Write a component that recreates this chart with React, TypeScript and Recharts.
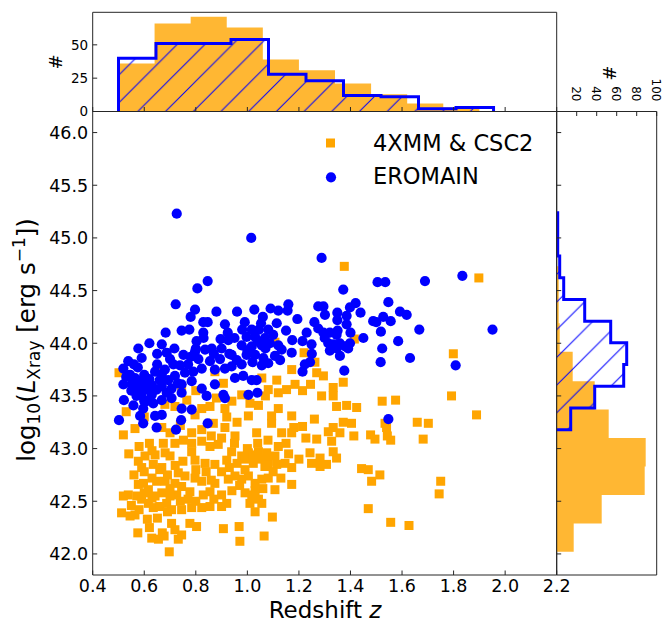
import React from 'react';
import {
  ScatterChart,
  Scatter,
  ComposedChart,
  Area,
  XAxis,
  YAxis,
  ReferenceArea,
} from 'recharts';

const FONT = 'DejaVu Sans, Verdana, sans-serif';
const ORANGE = '#FFA500';
const BLUE = '#0000FF';
const SPINE = '#262626';

// axis limits and ticks
const zDomain = [0.4, 2.2];
const lDomain = [41.8, 46.2];
const zTicks = [0.4, 0.6, 0.8, 1.0, 1.2, 1.4, 1.6, 1.8, 2.0, 2.2];
const lTicks = [42.0, 42.5, 43.0, 43.5, 44.0, 44.5, 45.0, 45.5, 46.0];
const topCountTicks = [0, 25, 50];
const rightCountTicks = [20, 40, 60, 80, 100];

// 4XMM & CSC2 sources: [redshift, log10 Lx]
const xmmPoints: [number, number][] = [
  [0.502, 43.72], [0.661, 43.73], [1.107, 44.01], [1.172, 43.75], [1.114, 43.65],
  [1.081, 43.56], [1.12, 43.53], [1.152, 43.56], [1.185, 43.61], [1.056, 43.67],
  [0.978, 43.51], [1.01, 43.43], [1.043, 43.41], [0.913, 43.38], [0.874, 43.73],
  [0.907, 43.62], [0.745, 43.59], [0.719, 43.4], [0.765, 43.46], [0.823, 43.38],
  [0.855, 43.4], [0.797, 43.32], [1.004, 43.31], [1.094, 43.31], [1.172, 43.31],
  [0.519, 43.13], [0.564, 43.19], [0.668, 43.2], [0.784, 43.15], [0.823, 43.18],
  [0.868, 43.24], [0.913, 43.2], [0.952, 43.12], [1.036, 43.15], [1.094, 43.24],
  [1.133, 43.15], [1.172, 43.15], [0.674, 43.05], [0.719, 43.05], [0.752, 43.08],
  [0.784, 43.05], [0.823, 43.07], [0.855, 43.02], [0.887, 43.04], [0.681, 42.96],
  [0.642, 42.94], [0.577, 42.88], [0.603, 42.93], [0.59, 42.82], [0.635, 42.85],
  [0.668, 42.82], [0.7, 42.93], [0.784, 42.97], [0.797, 42.89], [0.836, 42.86],
  [0.874, 42.85], [0.939, 42.97], [0.978, 42.93], [0.92, 42.89], [1.004, 42.96],
  [1.043, 42.97], [1.075, 42.96], [1.107, 42.93], [1.023, 42.86], [1.068, 42.83],
  [1.114, 42.85], [1.146, 42.86], [1.172, 42.82], [1.081, 42.88], [0.991, 42.8],
  [0.732, 42.77], [0.758, 42.74], [0.797, 42.72], [0.823, 42.69], [0.719, 42.67],
  [0.726, 42.56], [0.745, 42.64], [0.597, 42.67], [0.577, 42.66], [0.616, 42.61],
  [0.648, 42.69], [0.681, 42.69], [0.668, 42.58], [0.642, 42.55], [0.538, 42.56],
  [0.519, 42.55], [0.571, 42.55], [0.59, 42.52], [0.616, 42.48], [0.635, 42.44],
  [0.7, 42.55], [0.687, 42.48], [0.874, 42.67], [0.926, 42.71], [0.952, 42.74],
  [0.978, 42.71], [1.004, 42.74], [1.03, 42.67], [1.056, 42.71], [1.081, 42.72],
  [0.991, 42.58], [1.017, 42.56], [1.043, 42.52], [1.03, 42.4], [1.01, 42.48],
  [1.056, 42.48], [1.107, 42.61], [1.172, 42.66], [0.777, 42.59], [0.829, 42.56],
  [0.855, 42.59], [0.512, 42.39], [0.545, 42.36], [0.564, 42.37], [0.612, 42.33],
  [0.651, 42.34], [0.706, 42.42], [0.745, 42.42], [0.784, 42.44], [0.823, 42.44],
  [0.855, 42.45], [0.9, 42.45], [0.92, 42.48], [0.706, 42.29], [0.719, 42.23],
  [0.745, 42.18], [0.732, 42.14], [0.777, 42.29], [0.803, 42.26], [0.575, 42.2],
  [0.629, 42.15], [0.655, 42.14], [0.677, 42.17], [0.697, 42.02], [0.907, 42.24],
  [0.968, 42.26], [0.971, 42.12], [1.065, 42.17], [1.097, 42.35],
  [0.56, 42.75], [0.6, 42.78], [0.63, 42.72], [0.66, 42.8], [0.69, 42.75],
  [0.72, 42.84], [0.75, 42.88], [0.7, 42.62], [0.6, 42.58], [0.63, 42.53],
  [0.66, 42.45], [0.55, 42.46], [0.58, 42.42], [0.69, 42.4], [0.74, 42.5],
  [0.77, 42.52], [0.8, 42.5], [0.8, 42.8], [0.84, 42.78], [0.86, 42.7],
  [0.9, 42.78], [0.93, 42.82], [0.96, 42.86], [0.99, 42.9], [1.02, 42.94],
  [1.05, 42.9], [1.08, 42.84], [1.1, 42.78], [1.06, 42.62], [1.03, 42.6],
  [0.97, 42.65], [0.94, 42.6], [0.9, 42.56], [0.87, 42.52], [1.0, 43.0],
  [1.04, 43.05], [1.08, 43.08], [1.12, 43.02], [1.15, 43.05], [0.95, 43.05],
  [0.9, 43.1], [0.86, 43.12], [0.7, 43.15], [0.74, 43.22], [0.62, 43.05],
  [0.58, 43.02], [0.54, 42.95], [0.63, 42.98], [1.13, 42.72], [1.16, 42.95],
  [1.2, 42.9], [1.18, 43.2], [0.96, 43.25], [0.92, 43.3], [0.88, 43.48],
  [0.94, 43.45], [1.07, 43.5], [1.12, 43.38], [0.6, 43.3], [0.68, 43.42],
  [0.53, 43.35], [0.8, 43.55], [0.67, 42.2], [0.62, 42.25],
  [1.415, 44.04], [1.22, 43.91], [1.262, 43.82], [1.269, 43.72], [1.295, 43.69],
  [1.245, 43.61], [1.214, 43.55], [1.333, 43.58], [1.372, 43.63], [1.288, 43.5],
  [1.333, 43.5], [1.346, 43.4], [1.385, 43.41], [1.424, 43.39], [1.799, 43.9],
  [1.792, 43.5], [1.889, 43.32], [1.523, 43.45], [1.575, 43.46], [1.26, 43.28],
  [1.372, 43.25], [1.404, 43.24], [1.333, 43.2], [1.359, 43.15], [1.314, 43.16],
  [1.327, 43.07], [1.214, 43.21], [1.227, 43.1], [1.269, 43.09], [1.413, 43.12],
  [1.478, 43.13], [1.495, 43.09], [1.534, 43.24], [1.54, 43.2], [1.543, 43.12],
  [1.556, 43.08], [1.659, 43.25], [1.702, 43.24], [1.682, 43.09], [1.243, 42.96],
  [1.282, 42.91], [1.249, 42.86], [1.282, 42.83], [1.307, 42.85], [1.346, 42.91],
  [1.333, 42.97], [1.443, 42.81], [1.469, 42.8], [1.514, 42.75], [1.482, 42.69],
  [1.75, 42.69], [1.744, 42.57], [1.469, 42.43], [1.556, 42.3], [1.627, 42.27],
  [1.376, 44.73], [1.898, 44.62],
];

// eROSITA main sample: [redshift, log10 Lx]
const eroPoints: [number, number][] = [
  [0.726, 45.23], [1.015, 45.0], [1.288, 44.81], [1.372, 44.51], [1.505, 44.58],
  [1.535, 44.58], [1.689, 44.59], [1.834, 44.64],
  [0.846, 44.59], [0.806, 44.52], [0.722, 44.37], [0.797, 44.32], [1.027, 44.32],
  [1.09, 44.33], [1.12, 44.31], [1.156, 44.31], [1.159, 44.37], [1.194, 44.23],
  [0.78, 44.25], [0.829, 44.2], [0.846, 44.2], [0.913, 44.18], [1.053, 44.19],
  [1.114, 44.19], [0.745, 44.12], [0.775, 44.13], [0.683, 44.1], [0.829, 44.1],
  [0.924, 44.1], [0.98, 44.13], [1.017, 44.13], [1.045, 44.13], [1.081, 44.13],
  [0.896, 44.04], [0.926, 44.03], [0.803, 44.02], [0.668, 43.99], [0.577, 43.95],
  [1.174, 44.03], [0.997, 44.06], [1.03, 44.06], [1.068, 44.05], [0.978, 43.98],
  [1.017, 43.97], [1.056, 43.98], [1.088, 44.0], [0.862, 43.95], [0.836, 43.94],
  [0.797, 43.92], [0.717, 43.95], [0.687, 43.91], [0.752, 43.89], [0.78, 43.87],
  [0.81, 43.85], [1.133, 43.94], [1.172, 43.91], [0.59, 43.86], [0.538, 43.83],
  [0.519, 43.76], [0.575, 43.77], [0.713, 43.8], [0.739, 43.79], [0.855, 43.83],
  [0.894, 43.85], [0.939, 43.89], [0.959, 43.84], [0.978, 43.8], [0.997, 43.89],
  [1.03, 43.89], [1.062, 43.86], [1.081, 43.81], [1.056, 43.79], [1.107, 43.88],
  [1.127, 43.84], [0.642, 43.73], [0.668, 43.7], [0.693, 43.65], [0.719, 43.69],
  [0.758, 43.72], [0.79, 43.73], [0.823, 43.76], [0.874, 43.75], [0.913, 43.76],
  [0.939, 43.78], [0.545, 43.7], [0.564, 43.67], [0.59, 43.65], [0.616, 43.62],
  [0.603, 43.56], [0.629, 43.51], [0.59, 43.5], [0.519, 43.61], [0.551, 43.61],
  [0.668, 43.59], [0.706, 43.57], [0.745, 43.61], [0.784, 43.64], [0.823, 43.57],
  [0.842, 43.5], [0.874, 43.61], [0.907, 43.51], [0.913, 43.48], [0.952, 43.67],
  [0.984, 43.69], [1.017, 43.65], [1.036, 43.65], [1.004, 43.51], [1.039, 43.53],
  [0.521, 43.46], [0.558, 43.41], [0.596, 43.38], [0.635, 43.43], [0.668, 43.46],
  [0.706, 43.48], [0.745, 43.53], [0.745, 43.38], [0.584, 43.31], [0.642, 43.31],
  [0.668, 43.32], [0.784, 43.37], [0.571, 43.56], [0.622, 43.57], [0.648, 43.56],
  [0.609, 43.45], [0.687, 43.53],
  [0.55, 43.55], [0.58, 43.62], [0.6, 43.7], [0.62, 43.66], [0.57, 43.5],
  [0.6, 43.45], [0.63, 43.6], [0.66, 43.65], [0.53, 43.68], [0.56, 43.8],
  [0.65, 43.8], [0.7, 43.85], [0.68, 43.75], [0.73, 43.62], [0.77, 43.8],
  [0.8, 43.95], [0.83, 44.05], [0.87, 43.9], [0.9, 43.95], [0.93, 43.9],
  [0.95, 44.05], [0.99, 44.2], [1.0, 43.93], [1.02, 43.82], [1.04, 44.02],
  [1.07, 43.95], [1.1, 44.08], [1.12, 43.98], [1.15, 44.12], [1.06, 44.25],
  [0.96, 44.3], [0.88, 44.3], [0.62, 44.0], [0.65, 43.9],
  [0.502, 43.27], [0.596, 43.24], [0.648, 43.2], [0.723, 43.18], [0.743, 43.27],
  [0.846, 43.24],
  [1.547, 44.39], [1.275, 44.35], [1.295, 44.35], [1.398, 44.34], [1.301, 44.27],
  [1.349, 44.29], [1.349, 44.22], [1.385, 44.26], [1.385, 44.18], [1.439, 44.29],
  [1.488, 44.21], [1.527, 44.25], [1.556, 44.21], [1.592, 44.3], [1.618, 44.27],
  [1.275, 44.14], [1.295, 44.1], [1.32, 44.1], [1.346, 44.08], [1.518, 44.11],
  [1.667, 44.13], [1.951, 44.13], [1.214, 44.02], [1.249, 43.99], [1.314, 44.0],
  [1.333, 43.99], [1.359, 44.0], [1.379, 43.97], [1.398, 44.0], [1.391, 43.95],
  [1.346, 43.95], [1.585, 44.02], [1.523, 43.95], [1.359, 43.88], [1.631, 43.86],
  [1.517, 43.82], [1.808, 43.79], [1.243, 43.82], [1.223, 43.8], [1.214, 43.73],
  [1.376, 43.74], [1.547, 43.28],
  [1.3, 44.05], [1.35, 44.12], [1.4, 44.1], [1.32, 43.93], [1.26, 44.2],
  [1.42, 44.38], [1.45, 44.05], [1.5, 44.2], [1.25, 43.9], [1.23, 44.1],
];

// histograms: bin edges and counts
const xmmZEdges = [0.5, 0.64, 0.78, 0.92, 1.06, 1.2, 1.34, 1.48, 1.62, 1.76, 1.9];
const xmmZCounts = [36, 66, 71, 63, 39, 31, 21, 13, 6, 3];
const eroZEdges = [0.5, 0.6455, 0.791, 0.9365, 1.082, 1.2275, 1.373, 1.5185, 1.664, 1.8095, 1.955];
const eroZCounts = [40, 51, 51, 54, 28, 23, 12, 11, 2, 3];
const xmmLEdges = [42.02, 42.29, 42.56, 42.83, 43.1, 43.37, 43.64, 43.92, 44.19, 44.46, 44.73];
const xmmLCounts = [17, 45, 88, 89, 52, 38, 16, 3, 2, 2];
const eroLEdges = [43.18, 43.386, 43.592, 43.798, 44.004, 44.21, 44.416, 44.622, 44.828, 45.034, 45.24];
const eroLCounts = [14, 38, 67, 70, 54, 28, 7, 3, 1, 1];

const xmmData = xmmPoints.map(([z, l]) => ({ z, l }));
const eroData = eroPoints.map(([z, l]) => ({ z, l }));

// outline of a histogram as corner points (pos = bin edge, n = count)
function stepOutline(edges: number[], counts: number[]) {
  const pts = [{ pos: edges[0], n: 0 }];
  counts.forEach((c, i) => {
    pts.push({ pos: edges[i], n: c }, { pos: edges[i + 1], n: c });
  });
  pts.push({ pos: edges[edges.length - 1], n: 0 });
  return pts;
}

const topXmm = stepOutline(xmmZEdges, xmmZCounts);
const topEro = stepOutline(eroZEdges, eroZCounts);
const rightXmm = stepOutline(xmmLEdges, xmmLCounts);
const rightEro = stepOutline(eroLEdges, eroLCounts);

const TICK_LEN = 4.5;

// ticks point inward, like the matplotlib original
function leftTick(size: number, fmt: ((v: number) => string) | null) {
  return (p: any) => (
    <g>
      <line x1={p.x} y1={p.y} x2={p.x + TICK_LEN} y2={p.y} stroke={SPINE} strokeWidth={1} />
      {fmt && (
        <text x={p.x - 4.5} y={p.y + size * 0.36} textAnchor='end' fontSize={size} fontFamily={FONT} fill='#000'>
          {fmt(p.payload.value)}
        </text>
      )}
    </g>
  );
}

function bottomTick(size: number, fmt: ((v: number) => string) | null) {
  return (p: any) => (
    <g>
      <line x1={p.x} y1={p.y} x2={p.x} y2={p.y - TICK_LEN} stroke={SPINE} strokeWidth={1} />
      {fmt && (
        <text x={p.x} y={p.y + 16.5} textAnchor='middle' fontSize={size} fontFamily={FONT} fill='#000'>
          {fmt(p.payload.value)}
        </text>
      )}
    </g>
  );
}

function topTick(size: number) {
  return (p: any) => (
    <g>
      <line x1={p.x} y1={p.y} x2={p.x} y2={p.y + TICK_LEN} stroke={SPINE} strokeWidth={1} />
      <text
        transform={`translate(${p.x - size * 0.3645},${p.y - 10}) rotate(90)`}
        textAnchor='end'
        fontSize={size}
        fontFamily={FONT}
        fill='#000'
      >
        {p.payload.value}
      </text>
    </g>
  );
}

const one = (v: number) => v.toFixed(1);

function Hatch({ id }: { id: string }) {
  return (
    <defs>
      <pattern id={id} patternUnits='userSpaceOnUse' width={27.7} height={27.7}>
        <path d='M0,27.7 L27.7,0 M-7,7 L7,-7 M20.7,34.7 L34.7,20.7' stroke={BLUE} strokeWidth={1} />
      </pattern>
    </defs>
  );
}

const layer: React.CSSProperties = { position: 'absolute', left: 0, top: 0 };

export default function App() {
  return (
    <div style={{ position: 'absolute', left: 0, top: 0, width: 670, height: 624, background: '#fff' }}>
      {/* main scatter */}
      <div style={layer}>
        <ScatterChart width={670} height={624} margin={{ top: 111.5, right: 113.3, bottom: 4, left: 12.7 }}>
          <XAxis
            type='number'
            dataKey='z'
            domain={zDomain}
            ticks={zTicks}
            interval={0}
            allowDataOverflow
            height={45}
            tickSize={0}
            tickMargin={0}
            axisLine={false}
            tick={bottomTick(17.5, one)}
          />
          <YAxis
            type='number'
            dataKey='l'
            domain={lDomain}
            ticks={lTicks}
            interval={0}
            allowDataOverflow
            width={80}
            tickSize={0}
            tickMargin={0}
            axisLine={false}
            tick={leftTick(17.5, one)}
          />
          <ReferenceArea
            x1={zDomain[0]}
            x2={zDomain[1]}
            y1={lDomain[0]}
            y2={lDomain[1]}
            fill='none'
            stroke={SPINE}
            strokeWidth={1}
            ifOverflow='visible'
          />
          <Scatter
            data={xmmData}
            isAnimationActive={false}
            shape={(p: any) => <rect x={p.cx - 4.5} y={p.cy - 4.5} width={9} height={9} fill={ORANGE} />}
          />
          <Scatter
            data={eroData}
            isAnimationActive={false}
            shape={(p: any) => <circle cx={p.cx} cy={p.cy} r={5.1} fill={BLUE} />}
          />
        </ScatterChart>
      </div>

      {/* redshift histogram on top */}
      <div style={layer}>
        <ComposedChart width={670} height={120} margin={{ top: 12.3, right: 113.3, bottom: 3.5, left: 52.7 }}>
          <Hatch id='hatchTop' />
          <XAxis
            type='number'
            dataKey='pos'
            domain={zDomain}
            ticks={zTicks}
            interval={0}
            allowDataOverflow
            height={5}
            tickSize={0}
            tickMargin={0}
            axisLine={false}
            tick={bottomTick(12, null)}
          />
          <YAxis
            type='number'
            domain={[0, 74.4]}
            ticks={topCountTicks}
            interval={0}
            allowDataOverflow
            width={40}
            tickSize={0}
            tickMargin={0}
            axisLine={false}
            tick={leftTick(13.5, (v) => String(v))}
          />
          <Area
            data={topXmm}
            dataKey='n'
            type='linear'
            fill={ORANGE}
            fillOpacity={0.8}
            stroke='none'
            isAnimationActive={false}
          />
          <Area
            data={topEro}
            dataKey='n'
            type='linear'
            fill='url(#hatchTop)'
            fillOpacity={1}
            stroke={BLUE}
            strokeWidth={3}
            isAnimationActive={false}
          />
          <ReferenceArea
            x1={zDomain[0]}
            x2={zDomain[1]}
            y1={0}
            y2={74.4}
            fill='none'
            stroke={SPINE}
            strokeWidth={1}
            ifOverflow='visible'
          />
        </ComposedChart>
      </div>

      {/* luminosity histogram on the right */}
      <div style={layer}>
        <ComposedChart
          layout='vertical'
          width={670}
          height={624}
          margin={{ top: 81.5, right: 13.3, bottom: 49, left: 555.7 }}
        >
          <Hatch id='hatchRight' />
          <XAxis
            type='number'
            orientation='top'
            domain={[0, 100]}
            ticks={rightCountTicks}
            interval={0}
            allowDataOverflow
            height={30}
            tickSize={0}
            tickMargin={0}
            axisLine={false}
            tick={topTick(12)}
          />
          <YAxis
            type='number'
            dataKey='pos'
            domain={lDomain}
            ticks={lTicks}
            interval={0}
            allowDataOverflow
            reversed
            width={1}
            tickSize={0}
            tickMargin={0}
            axisLine={false}
            tick={leftTick(12, null)}
          />
          <Area
            data={rightXmm}
            dataKey='n'
            type='linear'
            fill={ORANGE}
            fillOpacity={0.8}
            stroke='none'
            isAnimationActive={false}
          />
          <Area
            data={rightEro}
            dataKey='n'
            type='linear'
            fill='url(#hatchRight)'
            fillOpacity={1}
            stroke={BLUE}
            strokeWidth={3}
            isAnimationActive={false}
          />
          <ReferenceArea
            x1={0}
            x2={100}
            y1={lDomain[0]}
            y2={lDomain[1]}
            fill='none'
            stroke={SPINE}
            strokeWidth={1}
            ifOverflow='visible'
          />
        </ComposedChart>
      </div>

      {/* axis titles and legend */}
      <svg width={670} height={624} style={{ ...layer, pointerEvents: 'none' }} fontFamily={FONT}>
        <text x={325} y={618} textAnchor='middle' fontSize={23}>
          Redshift <tspan fontStyle='italic'>z</tspan>
        </text>
        <text transform='translate(35,340) rotate(-90)' textAnchor='middle' fontSize={24.5}>
          log
          <tspan fontSize={17} dy={5}>10</tspan>
          <tspan dy={-5}>(</tspan>
          <tspan fontStyle='italic'>L</tspan>
          <tspan fontSize={17} dy={5}>Xray</tspan>
          <tspan dy={-5}> [erg s</tspan>
          <tspan fontSize={17} dy={-10}>−1</tspan>
          <tspan dy={10}>])</tspan>
        </text>
        <text transform='translate(62,62) rotate(-90)' textAnchor='middle' fontSize={18}>#</text>
        <text transform='translate(603,73) rotate(90)' textAnchor='middle' fontSize={18}>#</text>

        <rect x={326} y={138.5} width={9} height={9} fill={ORANGE} />
        <text x={373} y={151} fontSize={22.5}>4XMM &amp; CSC2</text>
        <circle cx={331} cy={177.3} r={5.1} fill={BLUE} />
        <text x={373} y={184} fontSize={22.5}>EROMAIN</text>
      </svg>
    </div>
  );
}
